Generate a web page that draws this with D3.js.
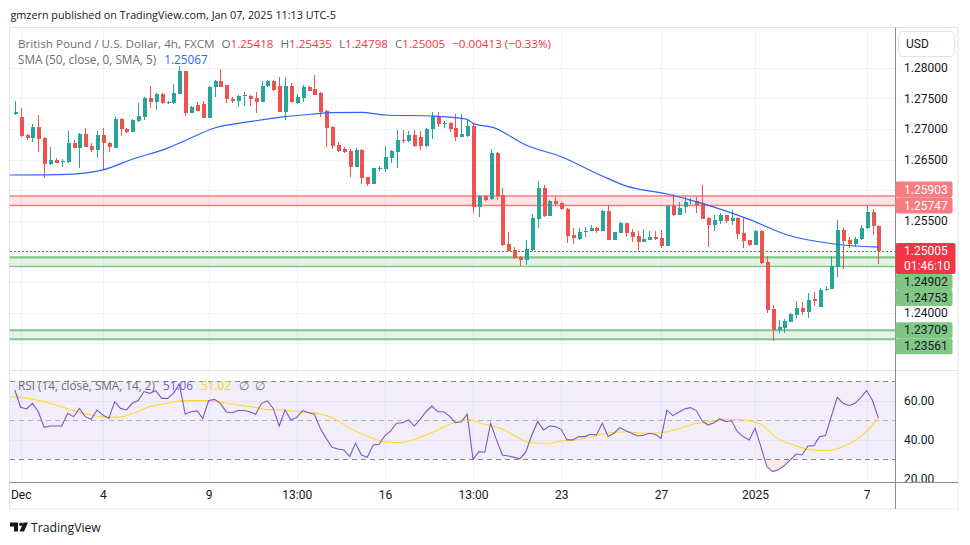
<!DOCTYPE html>
<html><head><meta charset="utf-8">
<script src="https://cdn.jsdelivr.net/npm/d3@7"></script>
<style>
body{margin:0;background:#fff;}
svg{display:block;font-family:"Open Sans","Noto Sans",sans-serif;}
</style>
</head><body>
<svg id="c" width="970" height="545"></svg>
<script>
// ---------------- DATA ----------------
const opens = [1.27238,1.27200,1.26900,1.26857,1.27031,1.26851,1.26426,1.26492,1.26465,1.26465,
1.26769,1.26688,1.26917,1.26715,1.26655,1.26900,1.26769,1.26693,1.27156,1.26998,
1.26955,1.27129,1.27200,1.27510,1.27445,1.27576,1.27418,1.27418,1.27570,1.27946,
1.27265,1.27390,1.27407,1.27183,1.27679,1.27783,1.27712,1.27483,1.27461,1.27540,
1.27537,1.27510,1.27445,1.27701,1.27788,1.27706,1.27281,1.27706,1.27418,1.27499,
1.27690,1.27647,1.27592,1.27292,1.27031,1.26737,1.26666,1.26644,1.26383,1.26655,
1.26208,1.26105,1.26350,1.26344,1.26530,1.26628,1.26819,1.26808,1.26900,1.26862,
1.26720,1.26993,1.27200,1.27091,1.27102,1.27009,1.26873,1.26884,1.27047,1.25729,
1.25904,1.25849,1.26612,1.25920,1.25119,1.25021,1.24912,1.24858,1.25021,1.25533,
1.26034,1.25582,1.25822,1.25784,1.25691,1.25266,1.25201,1.25326,1.25337,1.25381,
1.25337,1.25658,1.25185,1.25304,1.25468,1.25315,1.25255,1.25157,1.25185,1.25239,
1.25212,1.25087,1.25746,1.25593,1.25729,1.25822,1.25827,1.25784,1.25550,1.25430,
1.25500,1.25593,1.25500,1.25550,1.25304,1.25185,1.25103,1.25337,1.24825,1.24052,
1.23714,1.23741,1.23850,1.23959,1.24079,1.24014,1.24215,1.24095,1.24378,1.24384,
1.24749,1.25348,1.25185,1.25119,1.25195,1.25375,1.25648,1.25418];
const highs = [1.27456,1.27347,1.26917,1.27080,1.27227,1.26860,1.26699,1.26530,1.26503,1.26966,
1.26819,1.26928,1.27009,1.26764,1.26966,1.27009,1.26791,1.27200,1.27173,1.27009,
1.27156,1.27418,1.27527,1.27706,1.27592,1.27581,1.27450,1.27734,1.28020,1.27950,
1.27374,1.27445,1.27461,1.27701,1.27799,1.27979,1.27723,1.27516,1.27548,1.27608,
1.27559,1.27608,1.27788,1.27799,1.27799,1.27842,1.27842,1.27755,1.27570,1.27717,
1.27701,1.27881,1.27608,1.27309,1.27047,1.26791,1.26699,1.26666,1.26688,1.26666,
1.26220,1.26366,1.26394,1.26721,1.26655,1.26982,1.26982,1.26971,1.26982,1.26971,
1.27009,1.27282,1.27282,1.27129,1.27118,1.27243,1.27243,1.27156,1.27080,1.25920,
1.25915,1.26671,1.26620,1.26040,1.25310,1.25076,1.24920,1.25185,1.25609,1.26149,
1.26083,1.25838,1.25893,1.25800,1.25700,1.25375,1.25380,1.25403,1.25430,1.25390,
1.25675,1.25756,1.25320,1.25484,1.25470,1.25359,1.25332,1.25359,1.25332,1.25332,
1.25348,1.25760,1.25936,1.25800,1.25893,1.25865,1.25882,1.26083,1.25560,1.25593,
1.25620,1.25600,1.25675,1.25560,1.25539,1.25190,1.25348,1.25348,1.24923,1.24122,
1.23877,1.23888,1.23986,1.24188,1.24166,1.24313,1.24340,1.24395,1.24438,1.24923,
1.25511,1.25386,1.25239,1.25239,1.25430,1.25756,1.25686,1.25435];
const lows = [1.27227,1.26873,1.26819,1.26791,1.26628,1.26192,1.26410,1.26437,1.26383,1.26448,
1.26682,1.26366,1.26699,1.26628,1.26530,1.26328,1.26628,1.26682,1.26884,1.26938,
1.26949,1.27120,1.27145,1.27336,1.27309,1.27410,1.27405,1.27407,1.27565,1.27211,
1.27254,1.27290,1.27173,1.27173,1.27516,1.27679,1.27418,1.27418,1.27363,1.27380,
1.27374,1.27254,1.27434,1.27690,1.27625,1.27270,1.27145,1.27418,1.27407,1.27445,
1.27614,1.27548,1.27189,1.26710,1.26677,1.26628,1.26601,1.26208,1.26372,1.26094,
1.26072,1.26094,1.26312,1.26301,1.26437,1.26355,1.26775,1.26790,1.26710,1.26655,
1.26710,1.26835,1.27036,1.27009,1.26955,1.26802,1.26860,1.26873,1.25631,1.25566,
1.25827,1.25838,1.25838,1.25090,1.25000,1.24870,1.24765,1.24776,1.25010,1.25386,
1.25566,1.25575,1.25760,1.25675,1.25141,1.25114,1.25190,1.25239,1.25330,1.25300,
1.25330,1.25180,1.25180,1.25293,1.25239,1.25157,1.25021,1.25150,1.25180,1.25185,
1.25059,1.25080,1.25580,1.25585,1.25631,1.25756,1.25631,1.25520,1.25076,1.25337,
1.25440,1.25468,1.25430,1.25195,1.25059,1.25087,1.25095,1.24800,1.23997,1.23540,
1.23659,1.23659,1.23840,1.23905,1.23959,1.23905,1.24106,1.24090,1.24351,1.24378,
1.24574,1.24705,1.25048,1.25065,1.25185,1.25370,1.25266,1.24798];
const closes = [1.27281,1.26884,1.26857,1.27031,1.26835,1.26426,1.26492,1.26448,1.26476,1.26769,
1.26693,1.26917,1.26710,1.26655,1.26900,1.26764,1.26699,1.27162,1.26993,1.26949,
1.27145,1.27211,1.27510,1.27445,1.27576,1.27418,1.27439,1.27592,1.27946,1.27265,
1.27363,1.27298,1.27183,1.27690,1.27783,1.27690,1.27483,1.27461,1.27537,1.27548,
1.27494,1.27439,1.27701,1.27788,1.27636,1.27281,1.27706,1.27434,1.27516,1.27690,
1.27625,1.27559,1.27281,1.27020,1.26715,1.26639,1.26628,1.26383,1.26655,1.26203,
1.26094,1.26355,1.26360,1.26541,1.26639,1.26819,1.26802,1.26900,1.26720,1.26720,
1.26998,1.27211,1.27080,1.27096,1.26998,1.26873,1.26917,1.27047,1.25729,1.25904,
1.25838,1.26612,1.25904,1.25103,1.25010,1.24885,1.24858,1.25038,1.25544,1.26034,
1.25582,1.25827,1.25773,1.25691,1.25255,1.25212,1.25310,1.25337,1.25381,1.25337,
1.25658,1.25185,1.25315,1.25468,1.25304,1.25239,1.25157,1.25201,1.25239,1.25201,
1.25087,1.25746,1.25593,1.25713,1.25800,1.25832,1.25756,1.25528,1.25430,1.25511,
1.25593,1.25495,1.25550,1.25283,1.25174,1.25103,1.25337,1.24814,1.24041,1.23714,
1.23768,1.23866,1.23975,1.24079,1.24014,1.24204,1.24193,1.24367,1.24389,1.24765,
1.25348,1.25174,1.25119,1.25201,1.25375,1.25648,1.25419,1.25005];

// SMA(50) at these bar positions
const smaIdx = [-0.8,9,15,20,26,29,34,40,46,49,54,59,63,71,76,77,78,81.5,87,93,100,104,111,117,125,131.5,139.5,147];
const smaVal = [1.26247,1.26258,1.26330,1.26505,1.26685,1.26810,1.27015,1.27118,1.27200,1.27227,1.27265,1.27270,1.27227,1.27211,1.27173,1.27156,1.27091,1.27020,1.26737,1.26546,1.26230,1.26070,1.25936,1.25784,1.25522,1.25266,1.25119,1.25067];

// RSI(14) per bar
const rsi = [65.4,56.6,55.7,58.6,54.3,46.3,47.0,47.0,47.0,53.5,
51.8,56.0,51.8,50.4,55.2,52.6,50.9,59.4,56.0,55.2,
58.6,60.0,64.6,63.7,65.1,61.1,61.1,63.7,68.5,53.1,
54.3,54.7,50.9,60.0,60.6,58.6,54.2,53.8,54.9,54.9,
54.3,53.0,58.6,59.8,56.0,47.0,55.2,50.1,51.4,54.9,
53.8,53.0,45.8,40.7,36.1,35.3,34.8,31.4,38.2,32.2,
31.0,37.3,37.7,42.1,44.5,48.4,48.7,50.1,47.0,50.4,
54.3,57.2,54.3,54.3,52.1,48.7,49.2,53.1,30.0,33.9,
33.6,48.4,39.9,32.2,31.7,31.0,30.3,33.9,42.4,49.2,
45.0,47.0,46.7,45.3,39.9,39.9,41.6,41.6,42.8,42.4,
48.4,41.6,43.3,46.2,44.6,43.3,41.9,42.3,43.3,42.8,
40.7,55.2,52.3,54.0,55.7,56.4,54.9,49.6,47.5,48.7,
50.6,49.2,49.7,44.1,41.6,39.9,45.8,36.5,26.3,23.7,
24.6,26.8,29.7,32.7,32.2,36.8,37.0,41.6,42.1,52.1,
61.7,58.6,57.4,58.6,61.5,65.1,60.0,51.06];

// RSI-based SMA(14) read at these bar positions
const rsiSmaIdx = [-0.6,3.2,6,8.8,11.7,14.5,17.4,20.2,23,25.9,28.7,31.6,34.4,37.2,40.1,42.9,45.7,48.6,51.4,54.3,57.1,59.9,62.8,65.6,68.5,71.3,74.1,77,79.8,82.7,84.9,87.2,90.9,92.9,95.7,98.6,101.4,104.2,107.1,109.9,112.8,115.6,118.4,121.3,124.1,127,129.8,132.6,135.5,138.3,141.2,144,147];
const rsiSmaVal = [62.0,60.6,58.6,56.0,53.5,51.8,51.4,53.5,56.9,58.6,60.0,60.0,59.4,58.1,56.9,55.5,55.2,54.3,53.5,50.9,45.8,41.9,39.0,38.5,40.7,44.1,48.0,50.4,48.0,45.8,42.4,39.0,37.8,39.5,39.9,41.9,43.6,44.1,43.3,43.6,45.5,48.0,49.2,50.4,50.1,47.9,40.7,37.3,34.8,34.4,36.8,41.6,51.02];

// Zones and levels
const resistZone = [1.25903, 1.25747];
const supportZone1 = [1.24902, 1.24753];
const supportZone2 = [1.23709, 1.23561];
const lastPrice = 1.25005;
const countdown = "01:46:10";

// Axis ticks
const priceTicks = [1.235,1.24,1.245,1.25,1.255,1.26,1.265,1.27,1.275,1.28];
const rsiTicks = [20,40,60];
const rsiGrid = [40,60];
const rsiLevels = [70,50,30];
const timeTickIdx = [1,15,33,48,63,78,93,110,126,145];
const timeTickLabels = ["Dec","4","9","13:00","16","13:00","23","27","2025","7"];

// ---------------- LAYOUT ----------------
const PL=10, PR=895, MT=28, MB=370, RB=482, AXB=509, FR=958;
const AXF = 'Roboto, "Liberation Sans", sans-serif';
const svg = d3.select('#c');
const N = closes.length;
const x = d3.scaleLinear().domain([0, N-1]).range([14.8, 878.4]);
const y = d3.scaleLinear().domain([1.24, 1.28]).range([312.5, 67.7]);
const yr = d3.scaleLinear().domain([30, 70]).range([459.3, 381]);

const GRID = "#f0f3fa", TXT = "#131722", UP="#26a69a", DN="#ef5350";

svg.append('defs').call(d=>{
  d.append('clipPath').attr('id','mainClip').append('rect').attr('x',PL).attr('y',MT).attr('width',PR-PL).attr('height',MB-MT);
  d.append('clipPath').attr('id','rsiClip').append('rect').attr('x',PL).attr('y',MB).attr('width',PR-PL).attr('height',RB-MB);
  d.append('clipPath').attr('id','osClip').append('rect').attr('x',PL).attr('y',yr(30)).attr('width',PR-PL).attr('height',RB-yr(30));
});

// frame
svg.append('rect').attr('x',9.5).attr('y',27.5).attr('width',FR-9.5).attr('height',AXB-27.5)
  .attr('fill','none').attr('stroke','#e0e3eb');

// vertical grid
svg.append('g').selectAll('line').data(timeTickIdx).join('line')
  .attr('x1',d=>Math.round(x(d))+0.5).attr('x2',d=>Math.round(x(d))+0.5)
  .attr('y1',MT).attr('y2',RB).attr('stroke',GRID);

// horizontal price grid
svg.append('g').selectAll('line').data(priceTicks).join('line')
  .attr('x1',PL).attr('x2',PR).attr('y1',d=>Math.round(y(d))+0.5).attr('y2',d=>Math.round(y(d))+0.5)
  .attr('stroke',GRID);

// pane separator
svg.append('line').attr('x1',PL).attr('x2',FR).attr('y1',MB+0.5).attr('y2',MB+0.5).attr('stroke','#e0e3eb');

// ---- zones
const main = svg.append('g').attr('clip-path','url(#mainClip)');
function zone(vals, fill, stroke, w1, w2){
  main.append('rect').attr('x',PL).attr('width',PR-PL)
    .attr('y',y(vals[0])).attr('height',y(vals[1])-y(vals[0])).attr('fill',fill);
  main.append('line').attr('x1',PL).attr('x2',PR).attr('y1',y(vals[0])).attr('y2',y(vals[0])).attr('stroke',stroke).attr('stroke-width',w1);
  main.append('line').attr('x1',PL).attr('x2',PR).attr('y1',y(vals[1])).attr('y2',y(vals[1])).attr('stroke',stroke).attr('stroke-width',w2);
}
zone(resistZone,'rgba(242,54,69,0.14)','#f77c80',1.5,1.5);
zone(supportZone1,'rgba(76,175,80,0.15)','#81c784',2.2,1.5);
zone(supportZone2,'rgba(76,175,80,0.15)','#81c784',2,2);

// last price dotted line
main.append('line').attr('x1',PL).attr('x2',PR).attr('y1',Math.round(y(lastPrice))+0.5).attr('y2',Math.round(y(lastPrice))+0.5)
  .attr('stroke','#f23645').attr('stroke-width',1).attr('stroke-dasharray','2,2').attr('shape-rendering','crispEdges');

// ---- candles
const bars = d3.range(N).map(i=>({i,o:opens[i],h:highs[i],l:lows[i],c:closes[i]}));
const cg = main.append('g').attr('shape-rendering','crispEdges');
cg.selectAll('line.w').data(bars).join('line').attr('class','w')
  .attr('x1',d=>Math.round(x(d.i))+0.5).attr('x2',d=>Math.round(x(d.i))+0.5)
  .attr('y1',d=>y(d.h)).attr('y2',d=>y(d.l))
  .attr('stroke',d=>d.c>=d.o?UP:DN).attr('stroke-width',1);
cg.selectAll('rect.b').data(bars).join('rect').attr('class','b')
  .attr('x',d=>Math.round(x(d.i))-1.5).attr('width',4)
  .attr('y',d=>y(Math.max(d.o,d.c)))
  .attr('height',d=>Math.max(1,Math.abs(y(d.o)-y(d.c))))
  .attr('fill',d=>d.c>=d.o?UP:DN);

// ---- SMA line
const smaPts = smaIdx.map((d,k)=>[d,smaVal[k]]);
main.append('path').datum(smaPts)
  .attr('d',d3.line().x(d=>x(d[0])).y(d=>y(d[1])).curve(d3.curveMonotoneX))
  .attr('fill','none').attr('stroke','#2962ff').attr('stroke-width',1.2);

// ---- RSI pane
const rp = svg.append('g').attr('clip-path','url(#rsiClip)');
rp.append('rect').attr('x',PL).attr('width',PR-PL).attr('y',yr(70)).attr('height',yr(30)-yr(70))
  .attr('fill','rgba(126,87,194,0.1)');
rp.selectAll('line.g').data(rsiGrid).join('line').attr('class','g')
  .attr('x1',PL).attr('x2',PR).attr('y1',d=>Math.round(yr(d))+0.5).attr('y2',d=>Math.round(yr(d))+0.5)
  .attr('stroke','#e6e1f3');
rp.selectAll('line.lv').data(rsiLevels).join('line').attr('class','lv')
  .attr('x1',PL).attr('x2',PR).attr('y1',d=>Math.round(yr(d))+0.5).attr('y2',d=>Math.round(yr(d))+0.5)
  .attr('stroke','#787b86').attr('stroke-opacity',d=>d===50?0.5:0.9)
  .attr('stroke-dasharray','5,4');
// oversold fill
rp.append('path').datum(rsi)
  .attr('clip-path','url(#osClip)')
  .attr('d',d3.area().x((d,i)=>x(i)).y0(yr(30)).y1(d=>yr(d)))
  .attr('fill','rgba(242,54,69,0.12)');
// RSI SMA
const rsiSmaPts = rsiSmaIdx.map((d,k)=>[d,rsiSmaVal[k]]);
rp.append('path').datum(rsiSmaPts)
  .attr('d',d3.line().x(d=>x(d[0])).y(d=>yr(d[1])).curve(d3.curveMonotoneX))
  .attr('fill','none').attr('stroke','#fdd835').attr('stroke-width',1.1);
// RSI line
rp.append('path').datum(rsi)
  .attr('d',d3.line().x((d,i)=>x(i)).y(d=>yr(d)))
  .attr('fill','none').attr('stroke','#7e57c2').attr('stroke-width',1.1);

// ---- price labels on the axis (layout first, so hidden tick labels can be skipped)
const LH = 16;
const labels = [
  {v:resistZone[0], bg:'#f77c80', fg:'#fff'},
  {v:resistZone[1], bg:'#f77c80', fg:'#fff'},
  {v:lastPrice, bg:'#f23645', fg:'#fff', cur:true},
  {v:supportZone1[0], bg:'#81c784', fg:TXT},
  {v:supportZone1[1], bg:'#81c784', fg:TXT},
  {v:supportZone2[0], bg:'#81c784', fg:TXT},
  {v:supportZone2[1], bg:'#81c784', fg:TXT}
];
labels.forEach(l=>{ l.c = y(l.v); l.h = l.cur?31:LH; l.top = l.c - LH/2; });
const cur = labels.find(l=>l.cur);
const above = labels.filter(l=>l.v>lastPrice).sort((a,b)=>a.v-b.v);
let limit = cur.top;
above.forEach(l=>{ if(l.top+l.h>limit) l.top = limit-l.h; limit = l.top; });
const below = labels.filter(l=>l.v<lastPrice).sort((a,b)=>b.v-a.v);
limit = cur.top+cur.h;
below.forEach(l=>{ if(l.top<limit) l.top = limit; limit = l.top+l.h; });

// ---- axes lines
svg.append('line').attr('x1',PR+0.5).attr('x2',PR+0.5).attr('y1',27.5).attr('y2',AXB).attr('stroke','#8a8d96');

// price axis (tick labels that sit under a price label box are hidden, as in the original)
const hidden = v => labels.some(l => y(v) > l.top-6 && y(v) < l.top+l.h+6);
const pAxis = d3.axisRight(y).tickValues(priceTicks.filter(v=>!hidden(v))).tickSize(0).tickPadding(0).tickFormat(d3.format('.5f'));
const pa = svg.append('g').attr('transform',`translate(${PR+9},0)`).call(pAxis);
pa.select('.domain').remove();
pa.selectAll('text').attr('font-size',12).attr('fill',TXT).attr('font-family',AXF);

// rsi axis
const rAxis = d3.axisRight(yr).tickValues(rsiTicks).tickSize(0).tickPadding(0).tickFormat(d3.format('.2f'));
const ra = svg.append('g').attr('transform',`translate(${PR+9},0)`).call(rAxis);
ra.select('.domain').remove();
ra.selectAll('text').attr('font-size',12).attr('fill',TXT).attr('font-family',AXF);
svg.append('rect').attr('x',PR+1).attr('y',RB+1).attr('width',FR-PR-1.5).attr('height',AXB-RB-1.5).attr('fill','#fff');
svg.append('line').attr('x1',PL).attr('x2',FR).attr('y1',RB+0.5).attr('y2',RB+0.5).attr('stroke','#8a8d96');

// time axis
const tAxis = d3.axisBottom(x).tickValues(timeTickIdx).tickSize(0).tickPadding(0)
  .tickFormat((d,k)=>timeTickLabels[k]);
const ta = svg.append('g').attr('transform',`translate(0,${RB+8})`).call(tAxis);
ta.select('.domain').remove();
ta.selectAll('text').attr('font-size',12).attr('fill',TXT).attr('font-family',AXF);

// price label boxes
const lg = svg.append('g').attr('font-family',AXF);
labels.forEach(l=>{
  lg.append('rect').attr('x',PR+0.5).attr('y',l.top).attr('width',l.cur?60:57).attr('height',l.h)
    .attr('rx',2).attr('fill',l.bg);
  lg.append('text').attr('x',PR+9).attr('y',l.top+LH/2).attr('dominant-baseline','central')
    .attr('font-size',12).attr('fill',l.fg).text(d3.format('.5f')(l.v));
  if(l.cur){
    lg.append('text').attr('x',PR+9).attr('y',l.top+LH/2+15).attr('dominant-baseline','central')
      .attr('font-size',12).attr('fill',l.fg).text(countdown);
  }
});

// USD button
svg.append('rect').attr('x',898.5).attr('y',31.5).attr('width',56).attr('height',25).attr('rx',4)
  .attr('fill','#fff').attr('stroke','#e0e3eb');
svg.append('text').attr('x',906).attr('y',44).attr('dominant-baseline','central').attr('font-size',12)
  .attr('font-family',AXF).attr('fill',TXT).text('USD');

// ---- texts
function fit(t, target){
  const w = t.node().getBBox().width;
  const fs = parseFloat(t.attr('font-size'));
  t.attr('font-size', Math.max(10, Math.min(15, fs*target/w)));
}
const hdr = svg.append('text').attr('x',10.5).attr('y',14.5).attr('dominant-baseline','central')
  .attr('font-size',13).attr('fill',TXT).text('gmzern published on TradingView.com, Jan 07, 2025 11:13 UTC-5');
fit(hdr, 326);

const GR = '#6a6d78', RED = '#f23645';
const lgd = svg.append('text').attr('x',18).attr('y',42.5).attr('dominant-baseline','central').attr('font-size',13).attr('fill',GR);
lgd.append('tspan').text('British Pound / U.S. Dollar, 4h, FXCM');
const ohlc = [['O',opens[N-1]],['H',highs[N-1]],['L',lows[N-1]],['C',closes[N-1]]];
ohlc.forEach(([k,v])=>{
  lgd.append('tspan').attr('dx',7).text(k);
  lgd.append('tspan').attr('fill',RED).text(d3.format('.5f')(v));
});
const chg = closes[N-1]-opens[N-1];
lgd.append('tspan').attr('dx',7).attr('fill',RED)
  .text('\u2212'+d3.format('.5f')(Math.abs(chg))+' (\u2212'+d3.format('.2f')(Math.abs(chg/opens[N-1]*100))+'%)');
fit(lgd, 530);

const smaL = svg.append('text').attr('x',18).attr('y',59).attr('dominant-baseline','central').attr('font-size',13).attr('fill',GR);
smaL.append('tspan').text('SMA (50, close, 0, SMA, 5)');
smaL.append('tspan').attr('dx',8).attr('fill','#2962ff').text(d3.format('.5f')(smaVal[smaVal.length-1]));
fit(smaL, 189);

const rsiL = svg.append('text').attr('x',18).attr('y',385).attr('dominant-baseline','central').attr('font-size',13).attr('fill',GR);
rsiL.append('tspan').text('RSI (14, close, SMA, 14, 2)');
rsiL.append('tspan').attr('dx',8).attr('fill','#7e57c2').text(d3.format('.2f')(rsi[N-1]));
rsiL.append('tspan').attr('dx',8).attr('fill','#f5d60a').text(d3.format('.2f')(rsiSmaVal[rsiSmaVal.length-1]));
rsiL.append('tspan').attr('dx',8).text('\u2205');
rsiL.append('tspan').attr('dx',6).text('\u2205');
fit(rsiL, 244);

// TradingView logo
const logo = svg.append('g').attr('fill',TXT);
logo.append('path').attr('d','M10 522.5 h8 v9 h-4 v-5 h-4 z');
logo.append('circle').attr('cx',21).attr('cy',524.3).attr('r',1.8);
logo.append('path').attr('d','M23.5 522.5 h4.5 l-4 9 h-4.5 z');
const tv = svg.append('text').attr('x',31).attr('y',527).attr('dominant-baseline','central')
  .attr('font-size',14).attr('fill',TXT).text('TradingView');
fit(tv, 70);
</script>
</body></html>
